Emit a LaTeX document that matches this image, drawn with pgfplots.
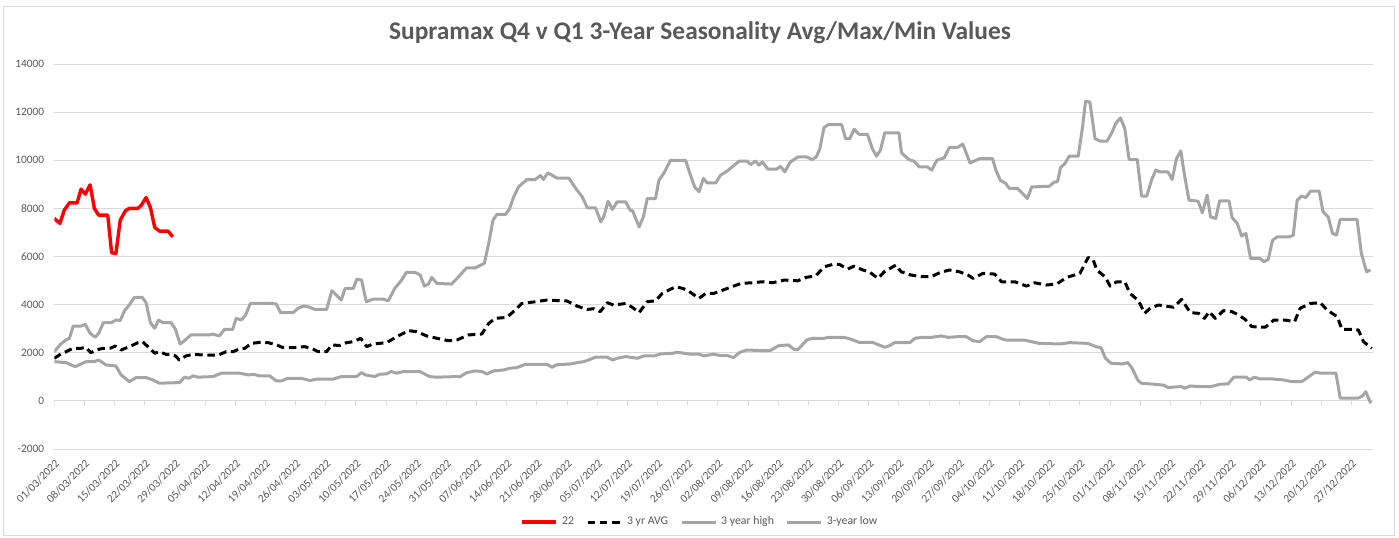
\documentclass[border=0pt]{standalone}
\usepackage{pgfplots}
\pgfplotsset{compat=1.18}
\usepackage{fontspec}
\setmainfont{Carlito}
\definecolor{gridgrey}{HTML}{D9D9D9}
\definecolor{txtgrey}{HTML}{595959}
\definecolor{linegrey}{HTML}{A5A5A5}
\begin{document}
\begin{tikzpicture}
\path[use as bounding box] (-27.15pt,-44pt) rectangle (672.35pt,224.5pt);
\draw[gridgrey, line width=0.5pt] (-25.65pt,-43pt) rectangle (669.85pt,221.15pt);
\node[font=\fontsize{12.7}{15}\selectfont\bfseries, text=txtgrey] at (322.85pt,208pt) {Supramax Q4 v Q1 3-Year Seasonality Avg/Max/Min Values};
\begin{axis}[
  at={(0pt,0pt)}, anchor=south west,
  scale only axis, width=659.35pt, height=192.5pt,
  xmin=0, xmax=306, ymin=-2000, ymax=14000,
  axis line style={draw=none},
  ytick={-2000,0,...,14000},
  scaled y ticks=false,
  ymajorgrids, grid style={gridgrey, line width=0.5pt},
  xtick={0,7,...,301},
  xticklabels={01/03/2022,08/03/2022,15/03/2022,22/03/2022,29/03/2022,05/04/2022,12/04/2022,19/04/2022,26/04/2022,03/05/2022,10/05/2022,17/05/2022,24/05/2022,31/05/2022,07/06/2022,14/06/2022,21/06/2022,28/06/2022,05/07/2022,12/07/2022,19/07/2022,26/07/2022,02/08/2022,09/08/2022,16/08/2022,23/08/2022,30/08/2022,06/09/2022,13/09/2022,20/09/2022,27/09/2022,04/10/2022,11/10/2022,18/10/2022,25/10/2022,01/11/2022,08/11/2022,15/11/2022,22/11/2022,29/11/2022,06/12/2022,13/12/2022,20/12/2022,27/12/2022},
  major tick length=0pt,
  tick label style={font=\fontsize{5.7}{6.5}\selectfont, text=txtgrey},
  xticklabel style={rotate=45, anchor=north east},
  yticklabel style={xshift=-1.5pt},
  /pgf/number format/assume math mode=true,
  /pgf/number format/set thousands separator={},
  legend columns=4,
  legend style={at={(0.4904,-0.1896)}, anchor=center, draw=none, fill=none,
    font=\fontsize{5.9}{6.5}\selectfont, text=txtgrey,
    /tikz/every even column/.append style={column sep=4pt}},
  legend image code/.code={\draw[#1] (0pt,0pt) -- (17pt,0pt);},
  line join=round,
]
\pgfplotsinvokeforeach{0,7,...,301}{\draw[gridgrey, line width=0.5pt] (axis cs:#1,0) -- ([yshift=-2pt]axis cs:#1,0);}
\addplot[red, line width=1.7pt] coordinates {
(0,7580)(1.3,7375)(2.3,7925)(3.5,8230)(5.3,8230)(6.2,8800)(7.2,8590)(8.3,8980)(9.3,8000)(10.3,7720)(12.4,7720)(13.3,6155)(14.3,6130)(15.3,7510)(16.5,7900)(17.4,8000)(19.4,8000)(20.2,8130)(21.3,8450)(22.3,8040)(23.3,7210)(24.4,7055)(26.4,7055)(27.5,6820)
};
\addlegendentry{22}
\addplot[black, line width=1.5pt, dash pattern=on 3.8pt off 2.3pt] coordinates {
(0,1770)(1.2,1910)(3.1,2075)(4.3,2185)(6.2,2185)(7.2,2230)(8.5,2005)(9.7,2115)(11.3,2185)(12.9,2185)(14.2,2280)(15.5,2115)(17.8,2280)(19.4,2420)(20.5,2460)(21.7,2255)(23.3,1980)(24.4,2045)(25.9,1935)(27,1935)(28.1,1870)(29,1700)(30.6,1870)(32.2,1935)(35,1900)(38,1900)(39.9,2045)(41.5,2045)(43,2160)(44.2,2185)(45.7,2390)(47.7,2430)(49.6,2420)(51.6,2325)(53.1,2210)(55.5,2210)(58.1,2255)(60.1,2145)(61.2,2045)(63.2,2045)(64.4,2325)(66.3,2300)(67.8,2420)(69.4,2460)(71.1,2600)(72.5,2255)(74,2365)(77.1,2420)(79.5,2670)(82.2,2920)(84.1,2875)(86.4,2700)(88.8,2600)(91.5,2500)(93.4,2530)(96.1,2740)(99.2,2780)(100.8,3220)(102.3,3430)(105,3470)(107,3780)(108.5,4050)(111.2,4110)(114.3,4190)(119,4150)(121.3,3940)(123.6,3800)(125.2,3830)(126.7,3710)(128.3,4080)(129.8,3980)(132.6,4050)(134.1,3890)(135.7,3670)(137.6,4120)(139.5,4160)(141.1,4470)(144.2,4745)(145.8,4675)(146.9,4600)(149.6,4260)(151.2,4470)(153.1,4470)(156.2,4675)(159.3,4880)(162,4910)(164.3,4950)(166.7,4910)(169.4,5020)(172.5,4990)(174.4,5130)(176.7,5200)(178.7,5575)(180.6,5670)(182.2,5670)(184.1,5480)(185.6,5600)(187.6,5440)(189.1,5365)(191.1,5090)(192.6,5365)(195.3,5645)(196.5,5365)(198.8,5230)(201.2,5160)(203.5,5160)(205.4,5325)(207.7,5440)(210,5365)(212,5230)(213.2,5090)(215.5,5300)(218.2,5270)(219.8,4950)(222.9,4950)(225.6,4770)(227.5,4910)(230.2,4815)(232.6,4855)(234.9,5130)(238,5300)(239.9,5960)(241.1,5850)(241.9,5440)(243.8,5160)(245,4770)(246.5,4950)(248.4,4950)(249.6,4470)(251.6,4160)(253,3640)(254.3,3850)(256.2,3985)(259.7,3890)(261.6,4220)(263.6,3665)(265.5,3640)(266.9,3430)(268,3705)(269.4,3430)(271.3,3750)(273.3,3705)(274.8,3570)(276.3,3390)(277.9,3085)(281,3060)(283,3360)(285.6,3360)(287.8,3290)(289.1,3850)(291.5,4050)(293.8,4080)(295.3,3780)(297.7,3500)(298.8,2975)(301.1,2975)(302.6,2945)(303.8,2460)(305.7,2185)
};
\addlegendentry{3 yr AVG}
\addplot[linegrey, line width=1.5pt] coordinates {
(0,2045)(1.5,2365)(2.7,2530)(3.5,2600)(4.4,3110)(6.2,3110)(7.2,3180)(8.3,2810)(9.5,2645)(10.3,2810)(11.4,3250)(13.2,3250)(14.3,3360)(15.3,3340)(16.3,3750)(17.4,3985)(18.6,4300)(20.4,4300)(21.3,4080)(22.3,3250)(23.3,3015)(24.2,3360)(25.2,3250)(27.1,3250)(28.1,2975)(29.2,2365)(30.2,2500)(31.7,2740)(36,2740)(36.7,2780)(38.3,2700)(39.5,2975)(41.4,2975)(42.2,3430)(43.4,3360)(44.4,3570)(45.5,4050)(50,4050)(51.5,4030)(52.5,3665)(55.4,3665)(56.6,3850)(57.8,3940)(58.9,3910)(60.5,3800)(63.2,3800)(64.4,4580)(65.4,4400)(66.6,4190)(67.5,4675)(69.4,4675)(70.2,5060)(71.3,5020)(72.4,4120)(74,4230)(76.3,4230)(77.5,4160)(79,4675)(80.6,5020)(81.7,5340)(83.7,5340)(84.9,5230)(85.9,4770)(86.8,4855)(87.6,5130)(88.8,4880)(92.2,4855)(93.8,5160)(95.7,5530)(97.7,5530)(99.8,5715)(100.8,6545)(101.8,7510)(102.7,7750)(104.7,7750)(105.6,7970)(106.6,8480)(107.7,8890)(109.7,9200)(111.6,9200)(112.8,9365)(113.5,9200)(114.5,9475)(116.7,9255)(119.4,9255)(121,8830)(122.5,8480)(123.7,8020)(125.6,8020)(126.8,7440)(127.5,7650)(128.5,8300)(129.5,7955)(130.6,8270)(132.6,8270)(133.6,7925)(134.2,7900)(135.7,7230)(136.7,7650)(137.6,8410)(139.5,8410)(140.3,9170)(141.4,9450)(143,10000)(146.5,10000)(147.7,9340)(148.6,8890)(149.6,8690)(150.6,9240)(151.5,9060)(153.5,9060)(154.6,9380)(156.2,9560)(158.9,9960)(160.8,9960)(161.6,9820)(162.7,9970)(163.5,9800)(164.3,9930)(165.6,9630)(167.6,9630)(168.5,9750)(169.5,9520)(170.8,9930)(172.6,10140)(174.5,10140)(175.9,10030)(176.8,10140)(177.6,10450)(178.6,11360)(179.6,11480)(182.7,11480)(183.6,10900)(184.6,10900)(185.6,11290)(186.7,11080)(188.7,11080)(189.8,10490)(190.8,10170)(191.7,10420)(192.7,11135)(196,11135)(196.6,10305)(198.3,10030)(199.5,9960)(200.7,9725)(202.6,9725)(203.6,9590)(204.8,10000)(206.5,10100)(207.7,10530)(209.6,10530)(210.8,10670)(211.5,10350)(212.5,9890)(214.8,10070)(217.7,10070)(218.5,9590)(219.5,9170)(220.8,9035)(221.6,8830)(223.5,8830)(225.8,8410)(226.8,8890)(230.9,8920)(232,9090)(232.8,9110)(233.5,9700)(234.5,9860)(235.5,10170)(237.6,10170)(238.6,11385)(239.3,12450)(240.3,12420)(241.5,10900)(242.6,10800)(244.3,10800)(245.3,11110)(246.3,11525)(247.4,11760)(248.4,11315)(249.4,10030)(251.3,10030)(252.3,8510)(253.5,8510)(254.6,9170)(255.6,9590)(256.5,9520)(258.4,9520)(259.4,9200)(260.4,10070)(261.4,10390)(262.3,9340)(263.3,8340)(265.4,8300)(266.4,7815)(267.5,8550)(268.3,7650)(269.5,7580)(270.4,8310)(272.6,8310)(273.3,7620)(274.5,7375)(275.5,6850)(276.5,6960)(277.6,5920)(279.8,5920)(280.7,5780)(281.7,5880)(282.7,6680)(283.8,6820)(286.7,6820)(287.5,6890)(288.4,8340)(289.4,8510)(290.4,8450)(291.5,8715)(293.5,8715)(294.4,7855)(295.6,7650)(296.6,6960)(297.5,6890)(298.4,7540)(302.3,7540)(303.3,6130)(304.5,5365)(305.4,5440)
};
\addlegendentry{3 year high}
\addplot[linegrey, line width=1.5pt] coordinates {
(0,1630)(2.7,1590)(3.9,1495)(4.9,1425)(5.7,1495)(7.4,1630)(9.3,1630)(10.3,1700)(12,1495)(14.3,1450)(15.5,1080)(17.4,800)(19,970)(21.3,970)(22.9,870)(24.4,735)(29.1,760)(30.2,985)(31.2,940)(32.2,1040)(33.3,985)(36.8,1010)(38.8,1150)(43,1150)(45,1080)(46.3,1100)(47.7,1040)(50,1040)(51.5,830)(52.7,830)(54.2,940)(57.3,940)(59.3,845)(60.8,900)(64.6,900)(66.6,1010)(70.1,1010)(71.3,1175)(72.2,1080)(74.3,1010)(75.5,1105)(77.1,1125)(78.2,1220)(79.4,1150)(81,1220)(84.8,1220)(87.1,1010)(88.7,985)(93.3,1010)(94.1,1000)(95.7,1175)(97.7,1245)(99.2,1220)(100.4,1120)(101.9,1245)(104.3,1285)(105.8,1360)(107.3,1380)(109.3,1520)(114.3,1520)(115.5,1400)(116.6,1500)(119.8,1535)(121.3,1590)(122.9,1630)(125.6,1815)(128.3,1815)(129.6,1700)(130.6,1770)(132.6,1840)(135.3,1770)(136.9,1870)(139.2,1870)(140.7,1950)(143.5,1980)(144.6,2020)(146.1,1980)(147.6,1940)(149.6,1940)(150.7,1870)(153,1940)(154.6,1880)(156.2,1880)(157.6,1800)(159.1,2020)(160.7,2115)(163.8,2090)(166.1,2090)(168.1,2295)(170.4,2325)(171.6,2145)(172.5,2120)(174.6,2530)(175.9,2600)(178.6,2600)(179.7,2640)(183.2,2640)(184.7,2575)(186.7,2435)(189.8,2435)(191.3,2325)(192.7,2230)(193.7,2285)(195,2420)(198.5,2420)(199.7,2600)(201.2,2640)(203.5,2640)(205.8,2700)(207.4,2640)(209.7,2670)(211.6,2670)(213.2,2500)(214.7,2460)(216.3,2670)(218.6,2670)(220.1,2560)(220.8,2530)(225,2530)(228.5,2390)(233.5,2365)(235.5,2420)(239.8,2390)(241.7,2255)(242.9,2210)(243.9,1770)(245.2,1565)(247.9,1535)(249.1,1590)(250.1,1355)(251.4,870)(252.2,735)(255.3,690)(257.5,650)(258.4,555)(261.5,595)(262.3,525)(263.6,620)(265.7,595)(268.5,595)(270.4,690)(272.4,710)(273.7,985)(276.6,985)(277.4,870)(278.5,985)(279.8,910)(282.7,910)(285.2,870)(287.1,800)(289.4,800)(290.6,940)(292.5,1190)(294,1150)(297.4,1150)(298.4,110)(302.5,110)(303.6,210)(304.3,385)(305.5,-100)
};
\addlegendentry{3-year low}
\end{axis}
\end{tikzpicture}
\end{document}
